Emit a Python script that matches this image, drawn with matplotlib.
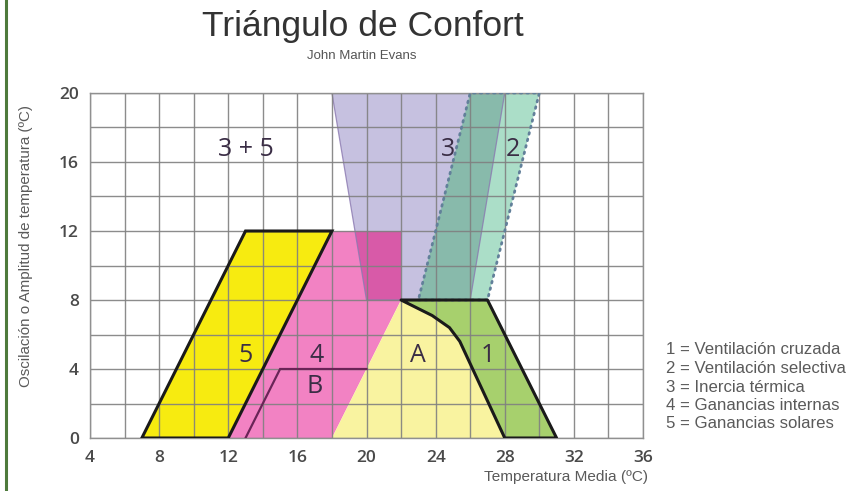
import matplotlib
matplotlib.use("Agg")
import matplotlib.pyplot as plt
from matplotlib.patches import Polygon
from matplotlib.lines import Line2D

# ---------------- data ----------------
title = "Triángulo de Confort"
subtitle = "John Martin Evans"
xlabel = "Temperatura Media (ºC)"
ylabel = "Oscilación o Amplitud de temperatura (ºC)"
x_ticks = [4, 8, 12, 16, 20, 24, 28, 32, 36]
y_ticks = [0, 4, 8, 12, 16, 20]

# zone 5 (ganancias solares)
zone5_x = [7, 12, 18, 13]
zone5_y = [0, 0, 12, 12]
# zone 4 (ganancias internas)
zone4_x = [12, 18, 22, 22, 18]
zone4_y = [0, 0, 8, 12, 12]
# zone B line
zoneB_x = [13, 15, 20]
zoneB_y = [0, 4, 4]
# zone A (confort)
zoneA_x = [18, 22, 23.8, 24.8, 25.4, 28]
zoneA_y = [0, 8, 7.1, 6.4, 5.6, 0]
# zone 1 (ventilación cruzada)
zone1_x = [22, 27, 31, 28, 25.4, 24.8, 23.8]
zone1_y = [8, 8, 0, 0, 5.6, 6.4, 7.1]
# zone 3 (inercia térmica)
zone3_x = [18, 20, 26, 28]
zone3_y = [20, 8, 8, 20]
# zone 2 (ventilación selectiva)
zone2_x = [23, 27, 30, 26]
zone2_y = [8, 8, 20, 20]

zone_labels = ["3 + 5", "3", "2", "5", "4", "A", "1", "B"]
label_x = [13, 24.7, 28.5, 13.0, 17.1, 23.0, 27.0, 17.0]
label_y = [16.7, 16.7, 16.7, 4.8, 4.8, 4.8, 4.8, 3.0]

legend_lines = ["1 = Ventilación cruzada",
                "2 = Ventilación selectiva",
                "3 = Inercia térmica",
                "4 = Ganancias internas",
                "5 = Ganancias solares"]

# ---------------- figure ----------------
W, H = 847, 491
fig = plt.figure(figsize=(W / 100, H / 100), dpi=100)
fig.patch.set_facecolor("white")
ax = fig.add_axes([90 / W, (H - 438) / H, (643 - 90) / W, (438 - 93) / H])
ax.set_xlim(4, 36)
ax.set_ylim(0, 20)

def pts(xs, ys):
    return list(zip(xs, ys))

# fills
pink = Polygon(pts(zone4_x, zone4_y), closed=True, facecolor="#f282c3",
               edgecolor="none", zorder=1.0)
ax.add_patch(pink)
purple = Polygon(pts(zone3_x, zone3_y), closed=True, facecolor="#c6c1e0",
                 edgecolor="none", zorder=1.05)
ax.add_patch(purple)
mint = Polygon(pts(zone2_x, zone2_y), closed=True, facecolor="#abdec8",
               edgecolor="none", zorder=1.1)
ax.add_patch(mint)
# overlaps (same shapes, clipped to zone 3)
mag = Polygon(pts(zone4_x, zone4_y), closed=True, facecolor="#d85aa8",
              edgecolor="none", zorder=1.2)
ax.add_patch(mag)
mag.set_clip_path(purple)
teal = Polygon(pts(zone2_x, zone2_y), closed=True, facecolor="#88baab",
               edgecolor="none", zorder=1.2)
ax.add_patch(teal)
teal.set_clip_path(purple)
# purple edges
ax.add_patch(Polygon(pts(zone3_x, zone3_y), closed=True, facecolor="none",
                     edgecolor="#8a78b0", lw=0.9, alpha=0.8, zorder=1.3))

ax.add_patch(Polygon(pts(zoneA_x, zoneA_y), closed=True, facecolor="#f9f3a0",
                     edgecolor="none", zorder=1.0))
ax.add_patch(Polygon(pts(zone1_x, zone1_y), closed=True, facecolor="#a7d06d",
                     edgecolor="none", zorder=1.0))
ax.add_patch(Polygon(pts(zone5_x, zone5_y), closed=True, facecolor="#f7eb10",
                     edgecolor="none", zorder=1.0))

# outlines (above grid)
ax.add_patch(Polygon(pts(zone2_x, zone2_y), closed=True, facecolor="none",
                     edgecolor="#62809a", lw=2.0, linestyle=(0, (0.6, 1.8)),
                     capstyle="round", zorder=3.1))
ax.add_patch(Polygon(pts(zone5_x, zone5_y), closed=True, facecolor="none",
                     edgecolor="#1a1a1a", lw=2.2, joinstyle="miter", zorder=3.2))
ax.add_patch(Polygon(pts(zone1_x, zone1_y), closed=True, facecolor="none",
                     edgecolor="#1a1a1a", lw=2.2, joinstyle="round", zorder=3.2))
ax.plot(zoneB_x, zoneB_y, color="#6a2457", lw=1.6, zorder=3.1,
        solid_joinstyle="miter")

# grid
ax.set_xticks(x_ticks)
ax.set_yticks(y_ticks)
ax.set_xticks(range(4, 37, 2), minor=True)
ax.set_yticks(range(0, 21, 2), minor=True)
ax.set_axisbelow(False)
ax.grid(which="both", color="#808080", lw=1.0, alpha=0.9)
ax.tick_params(which="both", length=0)
ax.tick_params(axis="x", pad=9)
ax.tick_params(axis="y", pad=8)
for s in ax.spines.values():
    s.set_color("#909090")
    s.set_linewidth(1.0)
    s.set_zorder(2.6)

tick_font = dict(family=["Open Sans", "DejaVu Sans"], size=12.5, weight="semibold",
                 color="#4a4a4a")
ax.set_xticklabels([str(v) for v in x_ticks], **tick_font)
ax.set_yticklabels([str(v) for v in y_ticks], **tick_font)

# zone labels
for t, x, y in zip(zone_labels, label_x, label_y):
    ax.text(x, y, t, ha="center", va="center", fontsize=18, weight="medium",
            family=["Open Sans", "DejaVu Sans"], color="#3a2d45", zorder=4)

# titles & labels (figure coordinates from pixels)
def fx(px):
    return px / W

def fy(py):
    return 1 - py / H

fig.text(fx(362.5), fy(36), title, ha="center", va="baseline",
         fontsize=25.5, family="Liberation Sans", color="#333333")
fig.text(fx(361.5), fy(59), subtitle, ha="center", va="baseline",
         fontsize=9.5, family="Liberation Sans", color="#555555")
fig.text(fx(26), fy(246), ylabel, ha="center", va="center", rotation=90,
         fontsize=10.9, family="Liberation Sans", color="#5a5a5a")
fig.text(fx(648), fy(477), xlabel, ha="right", va="center",
         fontsize=11.1, family="Liberation Sans", color="#5a5a5a")

legend_y = [350, 368.5, 387, 405.5, 424]
for t, py in zip(legend_lines, legend_y):
    fig.text(fx(666), fy(py), t, ha="left", va="center", fontsize=12.1,
             family="Liberation Sans", color="#5a5a5a")

# page border line at left
fig.add_artist(Line2D([fx(5.5), fx(5.5)], [0, 1], color="#4e7a3c", lw=2.2,
                      transform=fig.transFigure))

fig.savefig("out.png", dpi=100)
